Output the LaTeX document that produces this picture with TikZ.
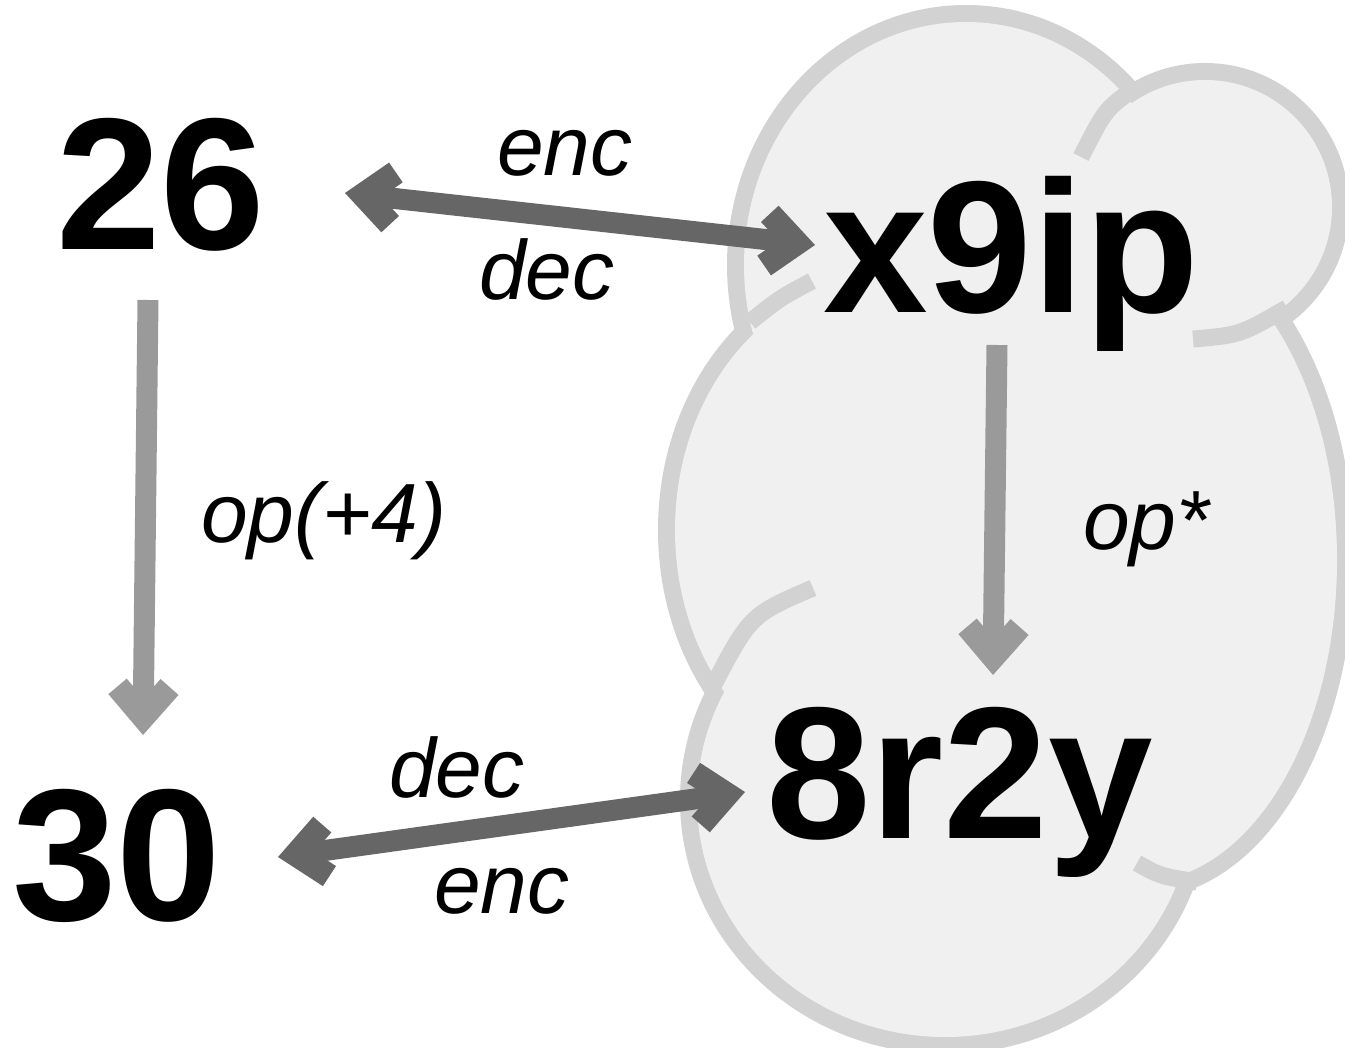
\documentclass[tikz,border=0pt]{standalone}
\usepackage{fontspec}
\setmainfont{Liberation Sans}
\usetikzlibrary{arrows.meta}
\definecolor{cloudfill}{HTML}{F0F0F0}
\definecolor{cloudline}{HTML}{D2D2D2}
\definecolor{darkarr}{HTML}{666666}
\definecolor{lightarr}{HTML}{9A9A9A}
\begin{document}
\begin{tikzpicture}[x=1pt,y=-1pt,
  big/.style={font=\bfseries\fontsize{188}{188}\selectfont, inner sep=0pt, anchor=base west},
  lbl/.style={font=\itshape\fontsize{84}{84}\selectfont, inner sep=0pt, anchor=base west},
  >={Straight Barb[length=30pt,width=52pt,line width=24pt]},
  darr/.style={draw=darkarr, line width=21pt, <->},
  larr/.style={draw=lightarr, line width=21pt, ->},
  stub/.style={draw=cloudline, line width=17pt},
]
\useasboundingbox (0,0) rectangle (1345,1048);
% cloud: outline
\foreach \cx/\cy/\rx/\ry in {966/265/222/243, 1205/207/127/127, 1140/560/197/322, 882/530/207/250, 945/800/248/237}
  \draw[cloudline, line width=34pt] (\cx,\cy) ellipse [x radius=\rx, y radius=\ry];
\foreach \cx/\cy/\rx/\ry in {966/265/222/243, 1205/207/127/127, 1140/560/197/322, 882/530/207/250, 945/800/248/237}
  \fill[cloudfill] (\cx,\cy) ellipse [x radius=\rx, y radius=\ry];
% inner arcs of the cloud
\draw[stub] (1132,90) .. controls (1105,110) .. (1081,157);
\draw[stub] (1287,308) .. controls (1240,335) .. (1193,339);
\draw[stub] (750,322) .. controls (780,298) .. (812,281);
\draw[stub] (710,692) .. controls (750,615) .. (813,588);
\draw[stub] (1137,863) .. controls (1160,876) .. (1197,882);
% texts
\node[big] (n26) at (56,250) {26};
\node[big] (n30) at (12,920) {30};
\node[big] (nx) at (823,313) {x9ip};
\node[big] (ny) at (766,838) {8r2y};
\node[lbl] (l1) at (497,176) {enc};
\node[lbl] (l2) at (479,300) {dec};
\node[lbl] (l3) at (201,543) {op(+4)};
\node[lbl] (l4) at (1083,550) {op*};
\node[lbl] (l5) at (389,797) {dec};
\node[lbl] (l6) at (434,913) {enc};
% arrows
\draw[darr] ([shift={(289,-57)}]n26.base west) -- ([shift={(-8,-68)}]nx.base west);
\draw[darr] ([shift={(266,-63)}]n30.base west) -- ([shift={(-21,-46)}]ny.base west);
\draw[larr] ([shift={(92,50)}]n26.base west) -- ([shift={(131,-185)}]n30.base west);
\draw[larr] ([shift={(174,32)}]nx.base west) -- ([shift={(227,-163)}]ny.base west);
\end{tikzpicture}
\end{document}
